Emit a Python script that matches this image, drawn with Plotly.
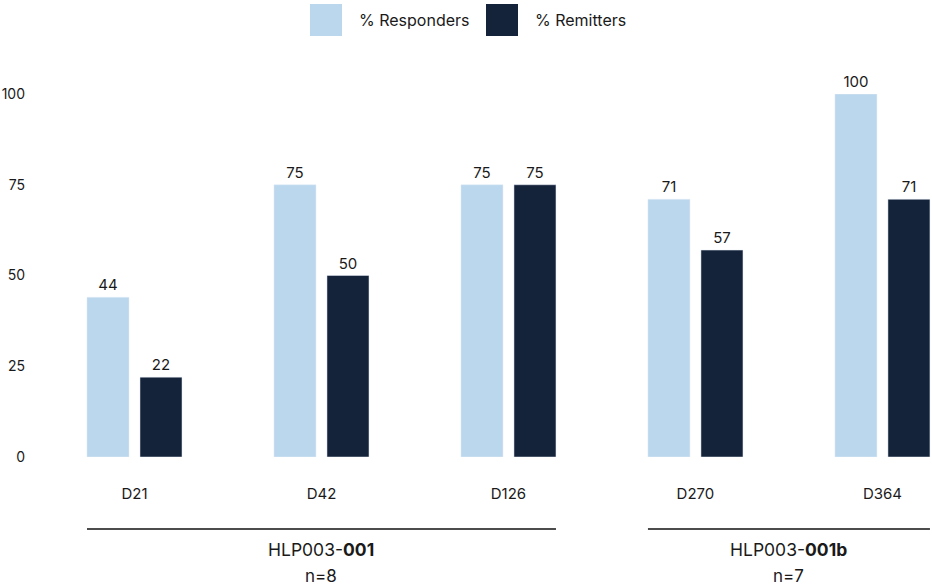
import plotly.graph_objects as go

categories = ["D21", "D42", "D126", "D270", "D364"]
responders = [44, 75, 75, 71, 100]
remitters = [22, 50, 75, 57, 71]
y_ticks = [0, 25, 50, 75, 100]
group_names = ["HLP003-<b>001</b>", "HLP003-<b>001b</b>"]
group_n = ["n=8", "n=7"]
group_first = [0, 3]
group_last = [2, 4]

LIGHT = "#BBD7ED"
DARK = "#14223A"
TXT = "#1a1a1a"
FONT = "Inter, Lato, sans-serif"

W, H = 932, 587
L, T = 41, 94
B = H - 457
PW, PH = W - L, H - T - B

fig = go.Figure()
fig.add_trace(go.Bar(x=categories, y=responders, name="% Responders",
                     marker_color=LIGHT, text=responders, textposition="outside",
                     textfont=dict(size=15, color=TXT, family=FONT), cliponaxis=False))
fig.add_trace(go.Bar(x=categories, y=remitters, name="% Remitters",
                     marker_color=DARK, text=remitters, textposition="outside",
                     textfont=dict(size=15, color=TXT, family=FONT), cliponaxis=False))

bargap = 0.433
bargroupgap = 0.2075
half = (1 - bargap) / 2 * (1 - bargroupgap / 2)


def py(ref_y):
    return (457 - ref_y) / PH


def px(ref_x):
    return (ref_x - L) / PW


shapes = []
annotations = []
for name, n, a, b in zip(group_names, group_n, group_first, group_last):
    shapes.append(dict(type="line", xref="x", yref="paper", x0=a - half, x1=b + half,
                       y0=py(529), y1=py(529), line=dict(color="#111111", width=1.5)))
    annotations.append(dict(x=(a + b) / 2, y=py(549), xref="x", yref="paper", text=name,
                            showarrow=False, yanchor="middle",
                            font=dict(size=17.5, color=TXT, family=FONT)))
    annotations.append(dict(x=(a + b) / 2, y=py(576), xref="x", yref="paper", text=n,
                            showarrow=False, yanchor="middle",
                            font=dict(size=17, color=TXT, family=FONT)))

legend_items = [("% Responders", LIGHT, 310), ("% Remitters", DARK, 486)]
for label, col, lx in legend_items:
    shapes.append(dict(type="rect", xref="paper", yref="paper",
                       x0=px(lx), x1=px(lx + 32),
                       y0=py(36), y1=py(4),
                       fillcolor=col, line=dict(width=0)))
    annotations.append(dict(x=px(lx + 47), y=py(20), xref="paper", yref="paper",
                            text=label, showarrow=False, xanchor="left", yanchor="middle",
                            font=dict(size=16, color=TXT, family=FONT)))

fig.update_layout(
    width=W, height=H,
    margin=dict(l=L, r=0, t=T, b=B),
    barmode="group", bargap=bargap, bargroupgap=bargroupgap,
    plot_bgcolor="white", paper_bgcolor="white",
    showlegend=False,
    font=dict(family=FONT, color=TXT, size=14),
    shapes=shapes, annotations=annotations,
    xaxis=dict(range=[-0.5, 4.265], showgrid=False, showline=False, zeroline=False,
               ticks="", tickfont=dict(size=15, color=TXT), ticklabelstandoff=26),
    yaxis=dict(range=[0, 100], tickvals=y_ticks, showgrid=False, showline=False, zeroline=False,
               ticks="", tickfont=dict(size=14, color=TXT), ticklabelstandoff=15),
)

fig.write_html("out.html", config={"displayModeBar": False},
               post_script="document.body.style.margin='0';document.body.style.overflow='hidden';")
